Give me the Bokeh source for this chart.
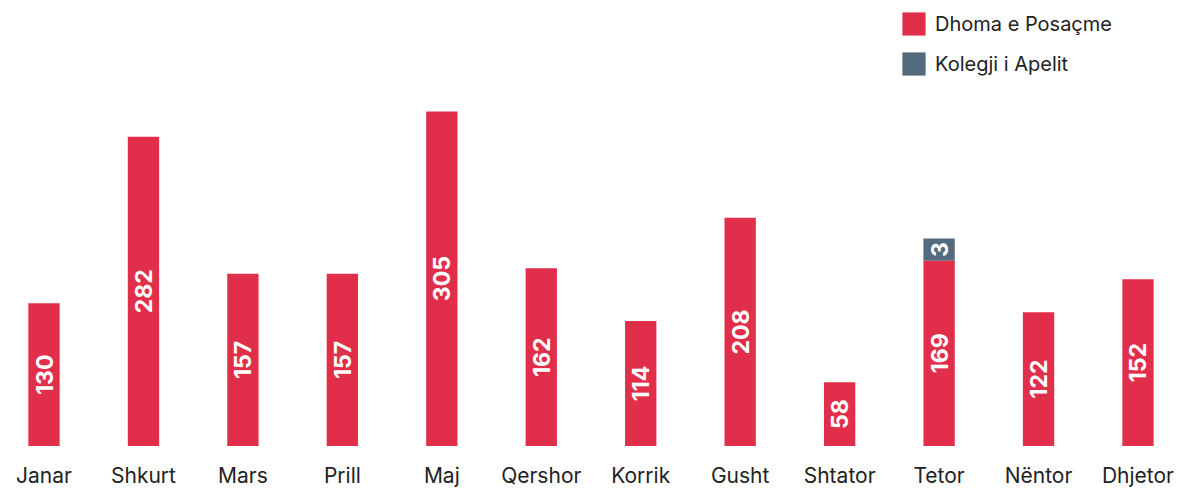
import numpy as np
from bokeh.plotting import figure
from bokeh.models import ColumnDataSource, Legend, LegendItem, Range1d
from bokeh.core.properties import value
from bokeh.embed import file_html
from bokeh.resources import INLINE

months = ["Janar", "Shkurt", "Mars", "Prill", "Maj", "Qershor", "Korrik",
          "Gusht", "Shtator", "Tetor", "Nëntor", "Dhjetor"]
dhoma = [130, 282, 157, 157, 305, 162, 114, 208, 58, 169, 122, 152]
kolegji = [0, 0, 0, 0, 0, 0, 0, 0, 0, 3, 0, 0]

RED = "#E12F4B"
GREY = "#546A7F"
FONT = "Inter"

W, H = 1182, 491
Y_START, Y_END = -41.5, 406.1
MIN_BAR_PX = 22  # minimal visible height of a non-zero stacked segment

p = figure(width=W, height=H, output_backend="svg", toolbar_location=None,
           x_range=Range1d(-0.4374, 11.4475), y_range=Range1d(Y_START, Y_END),
           min_border_left=0, min_border_right=0, min_border_top=0,
           min_border_bottom=0)
p.outline_line_color = None
p.grid.visible = False
p.axis.visible = False
p.background_fill_color = "white"

x = list(range(len(months)))
src = ColumnDataSource(dict(x=x, top=dhoma, mid=[v / 2 for v in dhoma],
                            lab=[str(v) for v in dhoma], month=months,
                            zero=[0] * len(months)))
r1 = p.vbar(x="x", top="top", bottom=0, width=0.315, source=src,
            fill_color=RED, line_color=None)
p.text(x="x", y="mid", text="lab", source=src, angle=np.pi / 2,
       text_align="center", text_baseline="middle", text_color="white",
       text_font=value(FONT), text_font_style="bold", text_font_size="23px")

# month labels (category axis labels)
p.text(x="x", y="zero", text="month", source=src, y_offset=30,
       text_align="center", text_baseline="alphabetic", text_color="#222222",
       text_font=value(FONT), text_font_size="21px")

unit_px = H / (Y_END - Y_START)
kx, kb, kt, km, kl = [], [], [], [], []
for i, (d, k) in enumerate(zip(dhoma, kolegji)):
    if k > 0:
        h = max(k, MIN_BAR_PX / unit_px)
        kx.append(i); kb.append(d); kt.append(d + h); km.append(d + h / 2); kl.append(str(k))
ksrc = ColumnDataSource(dict(x=kx, bottom=kb, top=kt, mid=km, lab=kl))
r2 = p.vbar(x="x", top="top", bottom="bottom", width=0.315, source=ksrc,
            fill_color=GREY, line_color=None)
p.text(x="x", y="mid", text="lab", source=ksrc, angle=np.pi / 2,
       text_align="center", text_baseline="middle", text_color="white",
       text_font=value(FONT), text_font_style="bold", text_font_size="23px")

legend = Legend(items=[LegendItem(label="Dhoma e Posaçme", renderers=[r1]),
                       LegendItem(label="Kolegji i Apelit", renderers=[r2])],
                location=(899, 413), glyph_width=29, glyph_height=29,
                label_height=29, spacing=11, padding=0, margin=0,
                label_standoff=7, border_line_color=None,
                background_fill_alpha=0, label_text_font=FONT,
                label_text_font_size="20px", label_text_color="#222222")
p.add_layout(legend)

open("out.html", "w").write(file_html(p, INLINE))
